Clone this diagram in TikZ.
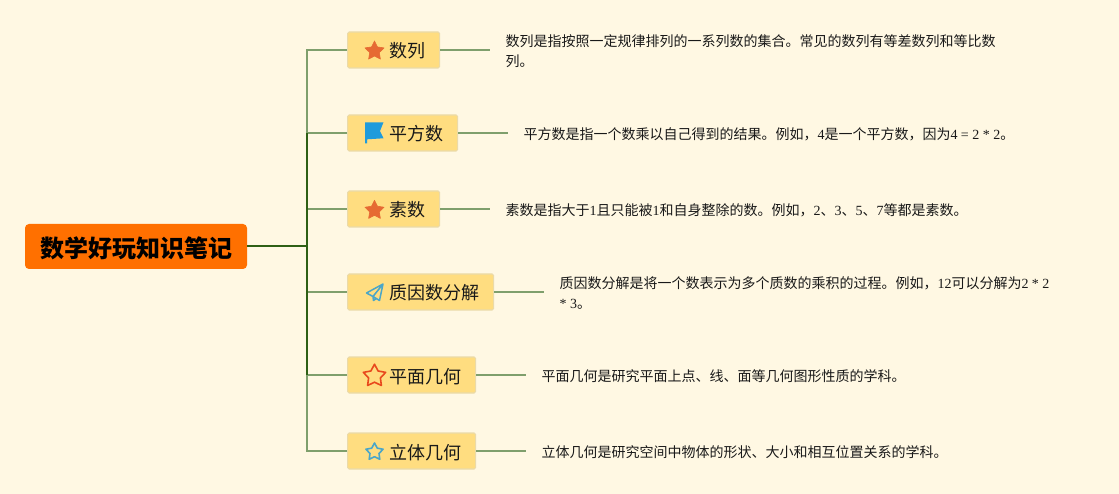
\documentclass[tikz,border=0pt]{standalone}
\usepackage{fontspec}
\setmainfont{Liberation Serif}
\newfontfamily\cjk{Noto Sans CJK SC}
\usetikzlibrary{shapes.geometric,calc}

\definecolor{paper}{HTML}{FFF8E3}
\definecolor{rootfill}{HTML}{FF7000}
\definecolor{topicfill}{HTML}{FFDD80}
\definecolor{topicedge}{HTML}{EBDAA8}
\definecolor{linelight}{HTML}{7F9F6C}
\definecolor{linedark}{HTML}{2F6015}
\definecolor{iconorange}{HTML}{E66A33}
\definecolor{iconred}{HTML}{E8491D}
\definecolor{iconblue}{HTML}{1E9BDC}
\definecolor{iconteal}{HTML}{4BA6C8}

\begin{document}
\begin{tikzpicture}[
    x=1pt,y=-1pt,
    root/.style={
        fill=rootfill,
        rounded corners=4pt,
        minimum width=222pt,
        minimum height=45pt,
        inner sep=0pt,
        text height=25pt,
        text depth=2pt,
        font={\cjk\bfseries\fontsize{24}{28}\selectfont},
    },
    topic/.style={
        draw=topicedge,
        line width=1.2pt,
        rounded corners=1.5pt,
        fill=topicfill,
        minimum height=36pt,
        inner sep=0pt,
        anchor=west,
        text height=18pt,
        text depth=2pt,
        font={\cjk\fontsize{18}{22}\selectfont},
        text=black!90,
    },
    detail/.style={
        anchor=west,
        inner sep=0pt,
        align=left,
        font={\fontsize{14}{20}\selectfont},
        text=black!90,
    },
    twig/.style={linelight,line width=1.5pt},
    bough/.style={linedark,line width=2pt},
    solidstar/.style={
        shape=star,star points=5,star point ratio=2.0,
        fill=iconorange,draw=iconorange,line width=0.6pt,line join=round,
        inner sep=0pt,minimum size=20pt,
    },
    hollowstar/.style={
        shape=star,star points=5,star point ratio=1.9,
        line join=round,fill=none,inner sep=0pt,
    },
]

\def\PADL{42pt}     %room for the icon
\def\PADR{14pt}     %room after the text

\useasboundingbox (0,0) rectangle (1119,494);
\fill[paper] (0,0) rectangle (1119,494);

\node[root] (root) at (136,246.5) {数学好玩知识笔记};

\node[topic] (T1) at (347,50)  {\hspace*{\PADL}数列\hspace*{\PADR}};
\node[topic] (T2) at (347,133) {\hspace*{\PADL}平方数\hspace*{\PADR}};
\node[topic] (T3) at (347,209) {\hspace*{\PADL}素数\hspace*{\PADR}};
\node[topic] (T4) at (347,292) {\hspace*{\PADL}质因数分解\hspace*{\PADR}};
\node[topic] (T5) at (347,375) {\hspace*{\PADL}平面几何\hspace*{\PADR}};
\node[topic] (T6) at (347,451) {\hspace*{\PADL}立体几何\hspace*{\PADR}};

\node[detail] (D1) at (505.3,51)  {{\cjk 数列是指按照一定规律排列的一系列数的集合。常见的数列有等差数列和等比数}\\{\cjk 列。}};
\node[detail] (D2) at (523.3,134) {{\cjk 平方数是指一个数乘以自己得到的结果。例如，}4{\cjk 是一个平方数，因为}4 = 2 * 2{\cjk 。}};
\node[detail] (D3) at (505.3,210) {{\cjk 素数是指大于}1{\cjk 且只能被}1{\cjk 和自身整除的数。例如，}2{\cjk 、}3{\cjk 、}5{\cjk 、}7{\cjk 等都是素数。}};
\node[detail] (D4) at (559.3,293) {{\cjk 质因数分解是将一个数表示为多个质数的乘积的过程。例如，}12{\cjk 可以分解为}2 * 2\\* 3{\cjk 。}};
\node[detail] (D5) at (541.3,376) {{\cjk 平面几何是研究平面上点、线、面等几何图形性质的学科。}};
\node[detail] (D6) at (541.3,452) {{\cjk 立体几何是研究空间中物体的形状、大小和相互位置关系的学科。}};

\coordinate (spine) at (307,246.5);

%left side
\draw[twig] (T1.west) -- (T1.west -| spine) -- (T2.west -| spine);
\draw[twig] (T2.west) -- (T2.west -| spine);
\draw[twig] (T3.west) -- (T3.west -| spine);
\draw[twig] (T4.west) -- (T4.west -| spine);
\draw[twig] (T5.west) -- (T5.west -| spine);
\draw[twig] (T6.west) -- (T6.west -| spine) -- (T5.west -| spine);
\draw[bough] (T2.west -| spine) -- (T5.west -| spine);
\draw[bough] (root.east) -- (spine);

%right side
\draw[twig] (T1.east) -- ([xshift=-15.3pt]T1.east -| D1.west);
\draw[twig] (T2.east) -- ([xshift=-15.3pt]T2.east -| D2.west);
\draw[twig] (T3.east) -- ([xshift=-15.3pt]T3.east -| D3.west);
\draw[twig] (T4.east) -- ([xshift=-15.3pt]T4.east -| D4.west);
\draw[twig] (T5.east) -- ([xshift=-15.3pt]T5.east -| D5.west);
\draw[twig] (T6.east) -- ([xshift=-15.3pt]T6.east -| D6.west);

%icons
\node[solidstar] (S1) at (374.5,51) {};
\node[solidstar] (S3) at (374.5,210.3) {};
\node[hollowstar,draw=iconred,line width=1.6pt,minimum size=23.5pt] (S5) at (374.5,376) {};
\node[hollowstar,draw=iconteal,line width=1.6pt,minimum size=18pt] (S6) at (374.5,452) {};

\fill[iconblue] (365,122.3) -- (383.5,122.3) -- (380,131) -- (383.5,138.3)
    -- (367,139.3) -- (367,143.5) -- (365,143.5) -- cycle;

\draw[iconteal,line width=1.5pt,line join=round] (383,284) -- (366.5,293) -- (373,296.5)
    -- (379.5,300.5) -- cycle (373,296.5) -- (383,284) (373,296.5) -- (373.5,300.5) -- (376.5,298.5);

\end{tikzpicture}
\end{document}
